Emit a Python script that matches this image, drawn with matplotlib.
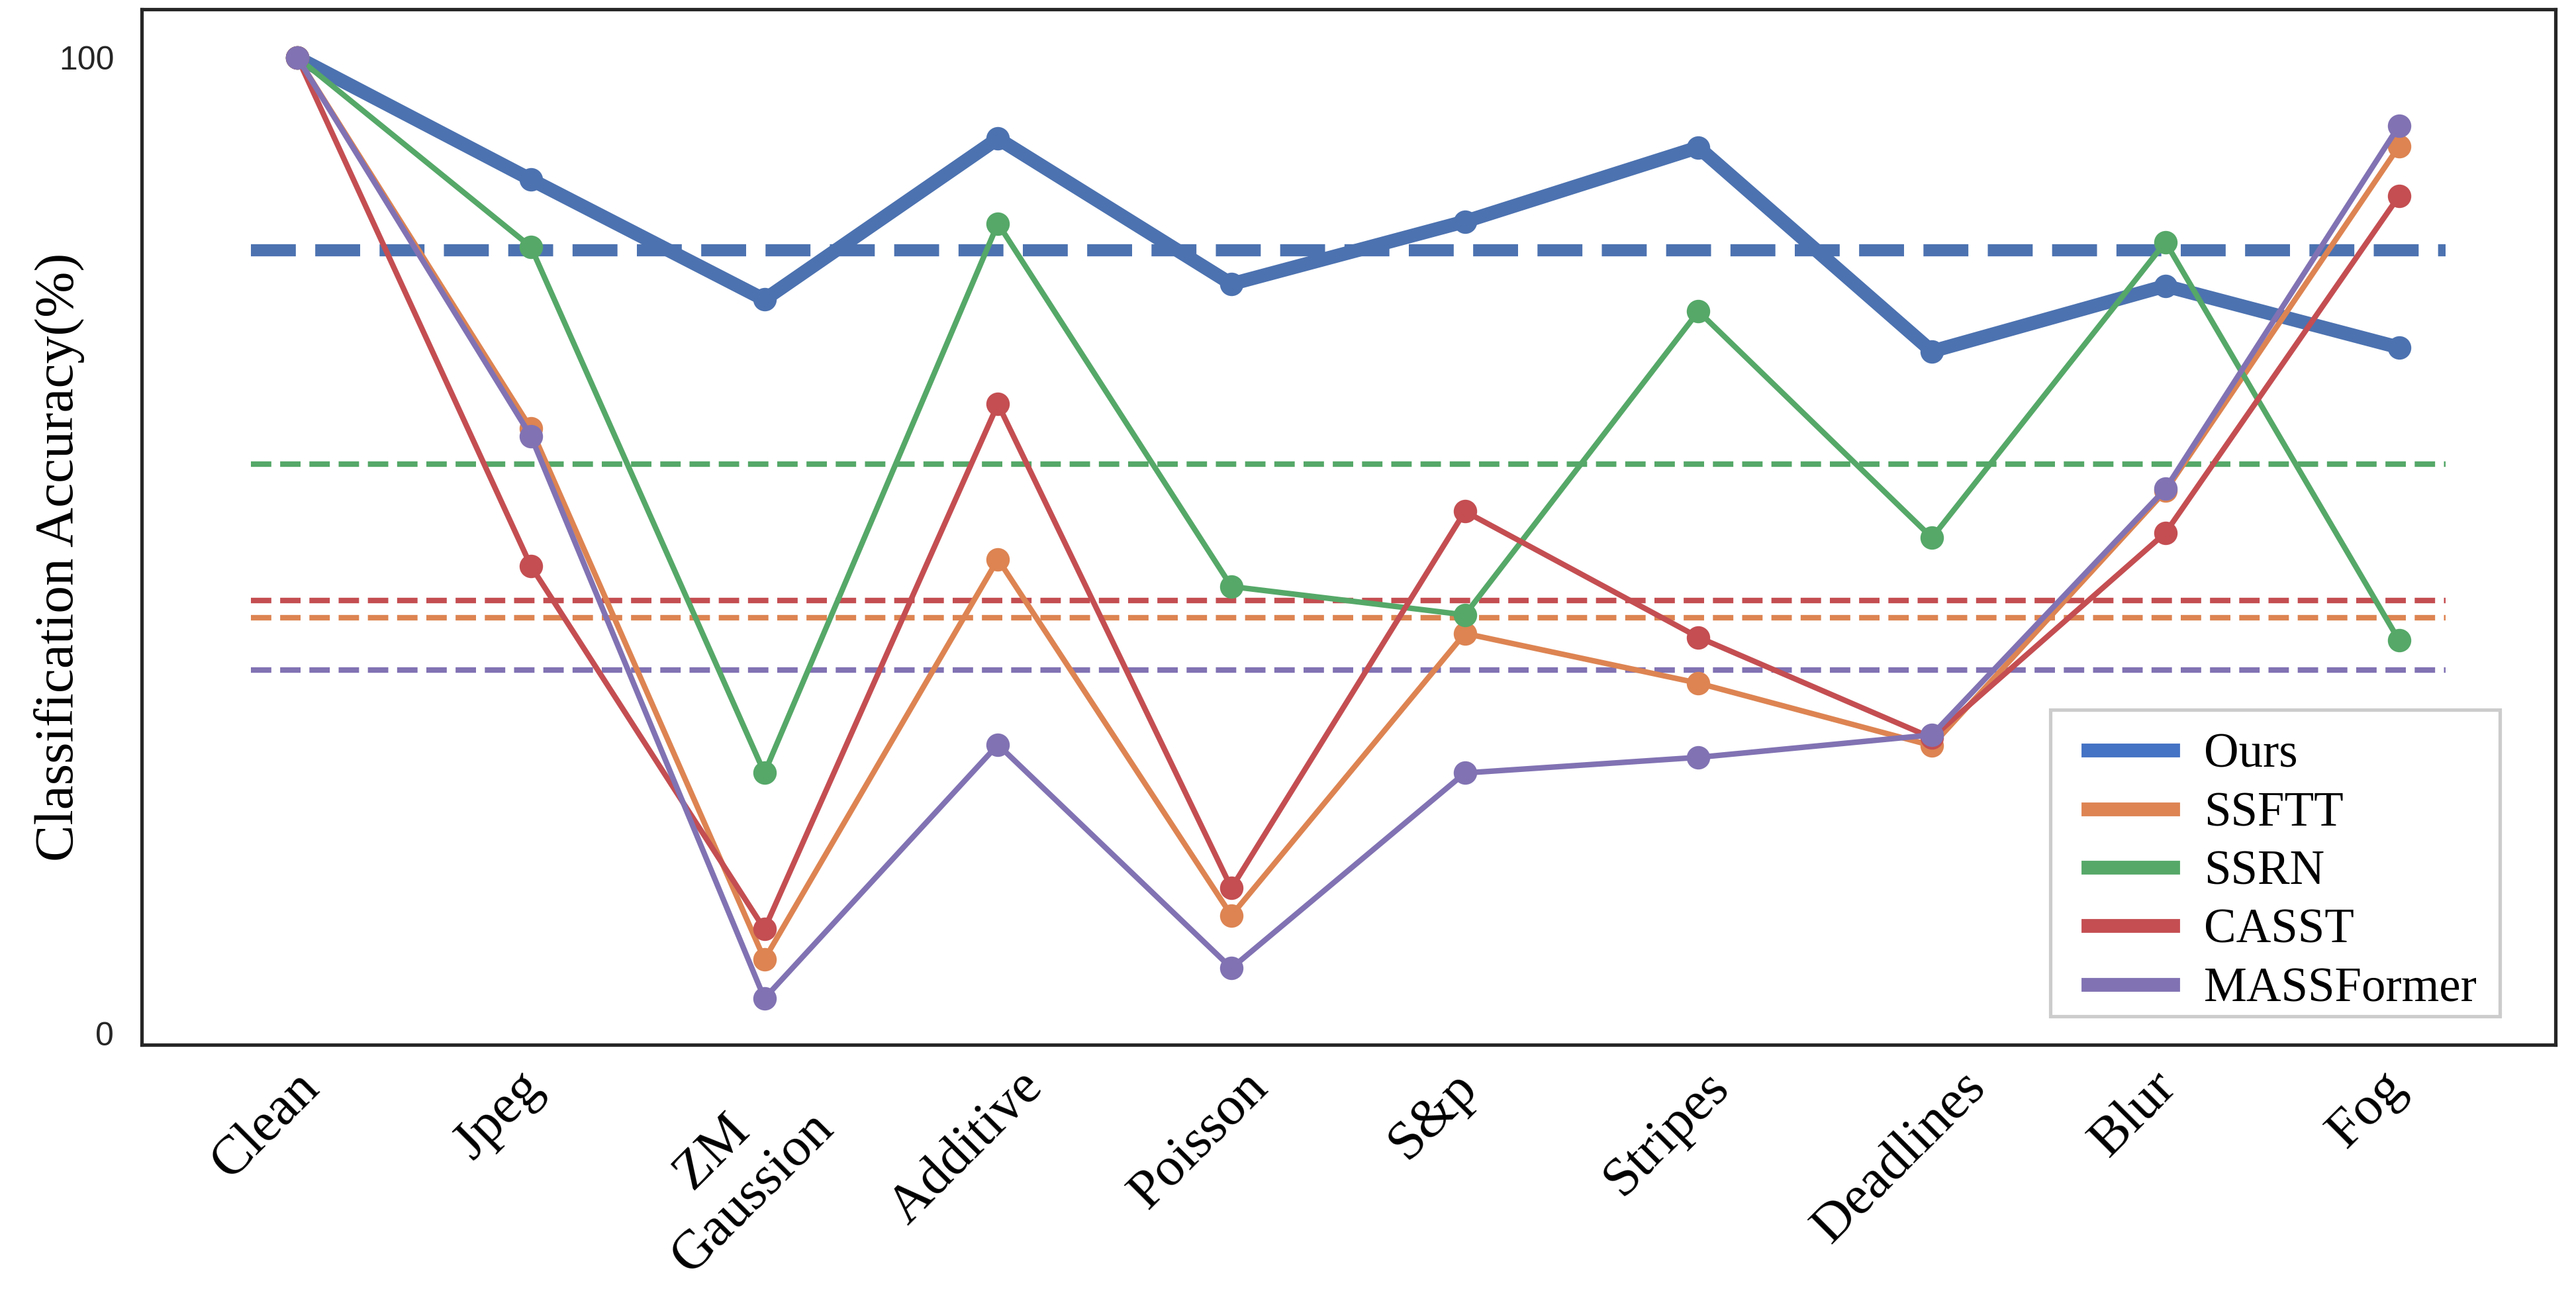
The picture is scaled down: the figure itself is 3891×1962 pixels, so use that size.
import numpy as np
import matplotlib
matplotlib.use("Agg")
import matplotlib.pyplot as plt
import matplotlib.transforms as mtransforms
from matplotlib.lines import Line2D
from matplotlib.patches import Rectangle

categories = ["Clean", "Jpeg", "ZM\nGaussion", "Additive", "Poisson", "S&p",
              "Stripes", "Deadlines", "Blur", "Fog"]
methods = ["Ours", "SSFTT", "SSRN", "CASST", "MASSFormer"]

ours       = [100, 87.5, 75.2, 91.7, 76.8, 83.2, 90.8, 69.9, 76.6, 70.3]
ssftt      = [100, 62.0, 7.6, 48.6, 12.1, 41.0, 35.9, 29.5, 55.6, 90.9]
ssrn       = [100, 80.6, 26.7, 83.0, 45.8, 42.9, 74.0, 50.8, 81.1, 40.3]
casst      = [100, 47.9, 10.7, 64.5, 14.9, 53.5, 40.6, 30.3, 51.3, 85.8]
massformer = [100, 61.2, 3.6, 29.6, 6.7, 26.7, 28.3, 30.6, 55.8, 93.0]

series = [ours, ssftt, ssrn, casst, massformer]
colors = ["#4C72B0", "#DD8452", "#55A868", "#C44E52", "#8172B3"]
legend_colors = ["#4472C4", "#DD8452", "#55A868", "#C44E52", "#8172B3"]

serif = ["Liberation Serif", "DejaVu Serif"]
sans = ["Liberation Sans", "DejaVu Sans"]

fig = plt.figure(figsize=(3891 / 300, 1962 / 300), dpi=300)
ax = fig.add_axes([0.055, 0.1957, 0.937, 0.7972])

x = np.arange(len(categories))

# mean lines (excluding Clean)
for i, (vals, c) in enumerate(zip(series, colors)):
    m = float(np.mean(vals[1:]))
    lw = 4.4 if i == 0 else 2.0
    ax.plot([-0.2, 9.2], [m, m], linestyle="--", color=c, lw=lw, zorder=1)

for i, (vals, c) in enumerate(zip(series, colors)):
    lw = 5.0 if i == 0 else 2.0
    ax.plot(x, vals, color=c, lw=lw, marker="o", markersize=7.5, zorder=2 + i)

ax.set_xlim(-0.667, 9.67)
ax.set_ylim(-1.15, 104.95)
ax.set_yticks([0, 100])
ax.set_yticklabels(["0", "100"], fontfamily=sans, fontsize=12, color="#262626")
ax.set_xticks(x)
ax.set_xticklabels([""] * len(categories))
ax.tick_params(axis="both", length=0)
ax.tick_params(axis="y", pad=10)

# x category labels, rotated, slightly offset to the left
base = mtransforms.blended_transform_factory(ax.transData, ax.transAxes)
shift = mtransforms.ScaledTranslation(-48 / 300, -26 / 300, fig.dpi_scale_trans)
for xi, lab in zip(x, categories):
    ax.text(xi, 0, lab, transform=base + shift, rotation=45, ha="center",
            va="top", fontfamily=serif, fontsize=20, color="black",
            multialignment="center", clip_on=False)

for s in ax.spines.values():
    s.set_color("#262626")
    s.set_linewidth(1.25)

ax.set_ylabel("Classification Accuracy(%)", fontfamily=serif, fontsize=20)
ax.yaxis.set_label_coords(-0.0236, 0.471)

# legend frame
ax.add_patch(Rectangle((0.7907, 0.0275), 0.9769 - 0.7907, 0.3235 - 0.0275,
                       transform=ax.transAxes, facecolor="white",
                       edgecolor="#cccccc", lw=1.25, zorder=9))
handles = [Line2D([0], [0], color=c, lw=5) for c in legend_colors]
leg = ax.legend(handles, methods, loc="lower right", bbox_to_anchor=(0.9797, 0.0038),
                borderaxespad=0, prop={"family": serif, "size": 17.5},
                handlelength=1.75, handletextpad=0.65, labelspacing=0.286,
                borderpad=0.6, frameon=False)
leg.set_zorder(10)

fig.savefig("out.png", dpi=300)
